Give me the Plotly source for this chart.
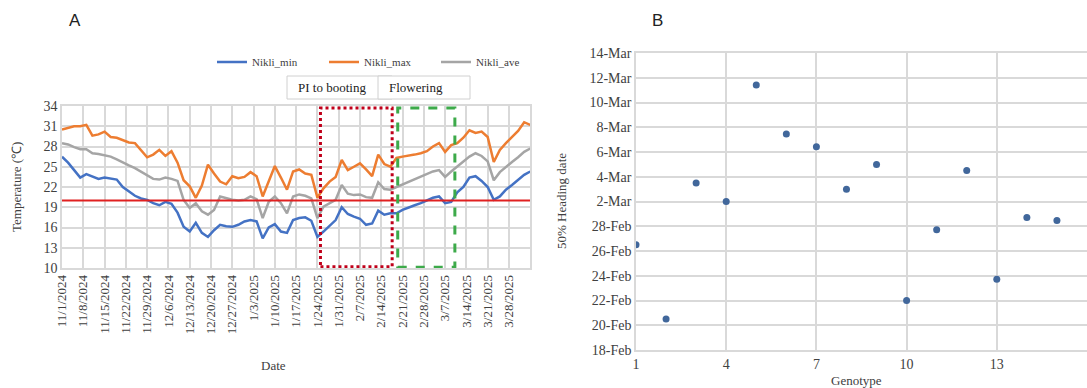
import pandas as pd
import plotly.graph_objects as go

# ---------------- Data ----------------
dates = pd.date_range("2024-11-01", periods=78, freq="2D")

nikli_max = [30.5, 30.8, 31.0, 31.0, 31.2, 29.6, 29.8, 30.2, 29.4, 29.3,
             28.9, 28.6, 28.5, 27.4, 26.4, 26.8, 27.5, 26.6, 27.3, 25.6,
             23.0, 22.1, 20.4, 22.2, 25.3, 24.0, 22.8, 22.4, 23.6, 23.3,
             23.5, 24.2, 23.6, 20.6, 22.8, 25.1, 23.4, 21.6, 24.3, 24.6,
             24.0, 23.8, 20.4, 21.8, 22.8, 23.5, 26.0, 24.5, 25.0, 25.5,
             24.6, 23.6, 26.8, 25.4, 25.0, 26.3, 26.5, 26.6, 26.8, 27.0,
             27.3, 28.0, 28.5, 27.2, 28.2, 28.5, 29.3, 30.4, 30.0, 30.2,
             29.4, 25.7, 27.5, 28.5, 29.4, 30.3, 31.6, 31.2]

nikli_min = [26.5, 25.6, 24.5, 23.4, 23.9, 23.5, 23.2, 23.4, 23.3, 23.1,
             22.0, 21.4, 20.7, 20.3, 20.1, 19.6, 19.3, 19.8, 19.5, 18.2,
             16.1, 15.4, 16.7, 15.2, 14.6, 15.6, 16.4, 16.2, 16.1, 16.4,
             16.9, 17.1, 16.9, 14.4, 16.0, 16.5, 15.4, 15.2, 17.1, 17.4,
             17.5, 17.0, 14.6, 15.4, 16.3, 17.1, 19.0, 18.0, 17.6, 17.3,
             16.4, 16.6, 18.5, 17.9, 18.1, 18.1, 18.6, 19.0, 19.3, 19.6,
             20.0, 20.4, 20.6, 19.6, 19.8, 21.2, 22.0, 23.4, 23.6, 22.9,
             22.0, 20.1, 20.6, 21.6, 22.3, 23.0, 23.8, 24.3]

nikli_ave = [28.5, 28.3, 27.9, 27.6, 27.6, 27.0, 26.9, 26.7, 26.5, 26.1,
             25.6, 25.2, 24.8, 24.3, 23.8, 23.2, 23.1, 23.4, 23.2, 22.9,
             20.1, 18.9, 19.6, 18.4, 17.9, 18.6, 20.6, 20.3, 20.1, 20.0,
             20.1, 20.6, 20.2, 17.4, 19.8, 20.6, 19.6, 18.1, 20.6, 20.9,
             20.7, 20.3, 17.4, 19.1, 19.6, 20.1, 22.3, 21.0, 20.8, 20.9,
             20.5, 20.4, 22.7, 21.7, 21.6, 22.0, 22.4, 22.8, 23.1, 23.6,
             23.9, 24.3, 24.5, 23.5, 24.3, 25.0, 25.8, 26.5, 27.0, 26.6,
             25.8, 23.0, 24.2, 25.0, 25.7, 26.4, 27.2, 27.7]

threshold = 20

temp_ticks = [10, 13, 16, 19, 22, 25, 28, 31, 34]

genotype = [1, 2, 3, 4, 5, 6, 7, 8, 9, 10, 11, 12, 13, 14, 15]
heading_date = ["2025-02-26 12:00", "2025-02-20 12:00", "2025-03-03 12:00",
                "2025-03-02 00:00", "2025-03-11 10:00", "2025-03-07 11:00",
                "2025-03-06 10:00", "2025-03-03 00:00", "2025-03-05 00:00",
                "2025-02-22 00:00", "2025-02-27 17:00", "2025-03-04 12:00",
                "2025-02-23 17:00", "2025-02-28 17:00", "2025-02-28 11:00"]
genotype_ticks = [1, 4, 7, 10, 13, 16]

# ---------------- Styles ----------------
SERIF = "Liberation Serif"
GRID = "#d9d9d9"
TXT = "#404040"

fig = go.Figure()

fig.add_trace(go.Scatter(x=dates, y=nikli_min, mode="lines", name="Nikli_min",
                         line=dict(color="#4472C4", width=2.5), xaxis="x", yaxis="y"))
fig.add_trace(go.Scatter(x=dates, y=nikli_max, mode="lines", name="Nikli_max",
                         line=dict(color="#ED7D31", width=2.5), xaxis="x", yaxis="y"))
fig.add_trace(go.Scatter(x=dates, y=nikli_ave, mode="lines", name="Nikli_ave",
                         line=dict(color="#A5A5A5", width=2.5), xaxis="x", yaxis="y"))

fig.add_trace(go.Scatter(x=genotype, y=heading_date, mode="markers", showlegend=False,
                         marker=dict(color="#41679B", size=7), xaxis="x2", yaxis="y2"))

W, H = 1087, 388
def px_x(p): return p / W
def px_y(p): return 1 - p / H

fig.update_layout(
    width=W, height=H,
    margin=dict(l=0, r=0, t=0, b=0, autoexpand=False),
    paper_bgcolor="white", plot_bgcolor="white",
    font=dict(family=SERIF, size=13, color=TXT),
    showlegend=True,
    legend=dict(orientation="h", x=px_x(212), y=px_y(62), xanchor="left", yanchor="middle",
                font=dict(family=SERIF, size=11, color=TXT),
                entrywidth=67, entrywidthmode="pixels", itemwidth=30,
                bgcolor="rgba(0,0,0,0)"),
    xaxis=dict(domain=[px_x(62), px_x(530)], type="date",
               range=["2024-11-01", "2025-04-03 22:00"],
               tick0="2024-11-01", dtick=7 * 86400000, tickformat="%-m/%-d/%Y",
               tickangle=-90, tickfont=dict(family=SERIF, size=13, color=TXT),
               showgrid=True, gridcolor=GRID, gridwidth=1.5,
               showline=True, linecolor=GRID, linewidth=1.5, mirror=True,
               ticks="", zeroline=False, automargin=False),
    yaxis=dict(domain=[px_y(268), px_y(106)], range=[10, 34],
               tickvals=temp_ticks, tickfont=dict(family=SERIF, size=14, color=TXT),
               showgrid=True, gridcolor=GRID, gridwidth=1.5,
               showline=True, linecolor=GRID, linewidth=1.5, mirror=True,
               ticks="", zeroline=False, anchor="x", automargin=False),
    xaxis2=dict(domain=[px_x(636), 1.0], range=[1, 16], tickvals=genotype_ticks,
                tickfont=dict(family=SERIF, size=14, color=TXT),
                showgrid=True, gridcolor=GRID, gridwidth=1.5,
                showline=True, linecolor=GRID, linewidth=1.5, mirror=True,
                ticks="", zeroline=False, anchor="y2", automargin=False),
    yaxis2=dict(domain=[px_y(350), px_y(53)], type="date",
                range=["2025-02-18", "2025-03-14"],
                tick0="2025-02-18", dtick=2 * 86400000, tickformat="%-d-%b",
                tickfont=dict(family=SERIF, size=14, color=TXT),
                showgrid=True, gridcolor=GRID, gridwidth=1.5,
                showline=True, linecolor=GRID, linewidth=1.5, mirror=True,
                ticks="", zeroline=False, anchor="x2", automargin=False),
)

# threshold line
fig.add_shape(type="line", xref="x domain", yref="y", x0=0, x1=1, y0=threshold, y1=threshold,
              line=dict(color="#E02020", width=2))
# phase boxes
fig.add_shape(type="rect", xref="x", yref="y", x0="2025-01-25", x1="2025-02-17 14:00",
              y0=10.2, y1=33.7, line=dict(color="#C0001A", width=3, dash="dot"))
fig.add_shape(type="rect", xref="x", yref="y", x0="2025-02-19 10:00", x1="2025-03-10 05:00",
              y0=10.1, y1=33.7, line=dict(color="#3DAA4A", width=3, dash="dash"))

# label boxes above the chart
fig.add_shape(type="rect", xref="paper", yref="paper", x0=px_x(287), x1=px_x(392),
              y0=px_y(99), y1=px_y(76), line=dict(color="#d0d0d0", width=1), fillcolor="white")
fig.add_shape(type="rect", xref="paper", yref="paper", x0=px_x(378), x1=px_x(470),
              y0=px_y(99), y1=px_y(76), line=dict(color="#d0d0d0", width=1), fillcolor="white")


def label(text, x, y, size=13, color=TXT, family=SERIF, angle=0):
    fig.add_annotation(text=text, x=px_x(x), y=px_y(y), xref="paper", yref="paper",
                       xanchor="center", yanchor="middle", textangle=angle, showarrow=False,
                       font=dict(family=family, size=size, color=color))


label("PI to booting", 332, 88, color="#222")
label("Flowering", 416, 88, color="#222")

# axis titles and panel labels
label("Temperature (℃)", 16, 187, angle=-90)
label("Date", 273, 365)
label("50% Heading date", 561, 201, angle=-90)
label("Genotype", 856, 380)
label("A", 75, 20, size=17, color="#222", family="Liberation Sans")
label("B", 657, 20, size=17, color="#222", family="Liberation Sans")

fig.write_html("out.html")
